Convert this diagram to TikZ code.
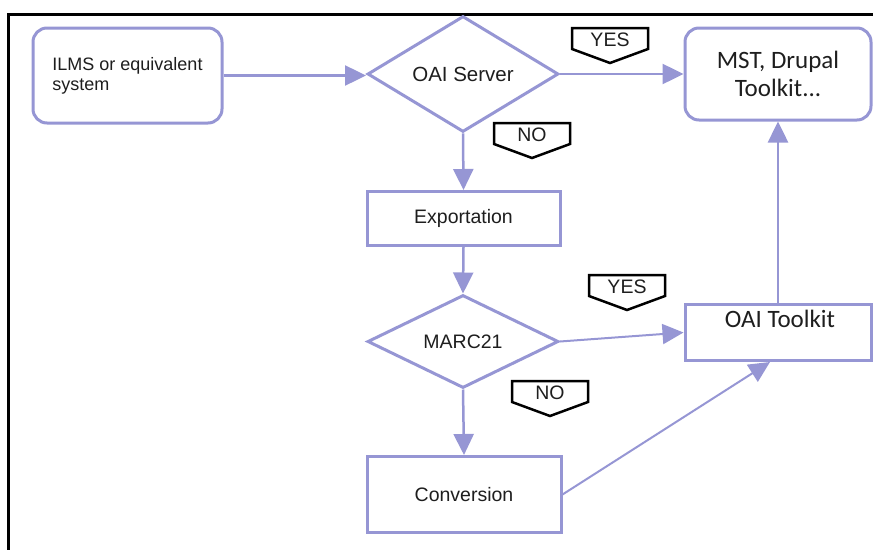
\documentclass[tikz,border=0pt]{standalone}
\usepackage{fontspec}
\setmainfont{Liberation Sans}
\newfontfamily\calfont{Carlito}
\usetikzlibrary{arrows.meta,shapes.geometric}
\definecolor{flowline}{RGB}{150,150,212}
\definecolor{flowtext}{RGB}{30,30,30}
\tikzset{
  flowbox/.style={draw=flowline, line width=3pt, fill=white, inner sep=0pt,
    text=flowtext, font=\fontsize{19.5}{21}\selectfont, align=center},
  roundbox/.style={flowbox, rounded corners=14pt},
  decision/.style={flowbox, diamond},
  conn/.style={draw=flowline, line width=2.5pt,
    -{Triangle[length=21pt,width=20pt]}},
  thinconn/.style={conn, line width=2pt},
  tagshape/.style={draw=black, line width=2.5pt, fill=white, line join=miter},
  tagtext/.style={text=flowtext, inner sep=0pt, font=\fontsize{19.5}{21}\selectfont}
}
% answer tag: a box with a downward point; #1 name, #2 left, #3 top, #4 word
\newcommand\flowtag[4]{%
  \draw[tagshape] (#2,#3) -- ++(76,0) -- ++(0,21) -- ++(-38,14) -- ++(-38,-14) -- cycle;
  \node[tagtext] (#1) at (#2+38,#3+12) {#4};
}
\begin{document}
\begin{tikzpicture}[x=1pt,y=-1pt]
\useasboundingbox (0,0) rectangle (873,549);
% frame
\draw[line width=3pt] (875,14) -- (8,14) -- (8,551);

% boxes and decisions
\node[roundbox, minimum width=189pt, minimum height=95pt,
  font=\fontsize{18}{20}\selectfont, align=left] (ilms) at (127.5,75.5)
  {ILMS or equivalent\\system};
\node[decision, minimum width=191pt, minimum height=113pt,
  font=\fontsize{20.5}{22}\selectfont] (oai) at (463,74) {OAI Server};
\node[roundbox, minimum width=186pt, minimum height=92pt,
  font=\calfont\fontsize{25}{28}\selectfont] (mst) at (778,74) {MST, Drupal\\Toolkit...};
\node[flowbox, minimum width=193pt, minimum height=54pt] (export) at (463.5,218.5) {Exportation};
\node[decision, minimum width=191pt, minimum height=93pt] (marc) at (463,341.5) {MARC21};
\node[flowbox, minimum width=186pt, minimum height=56pt] (toolkit) at (778,332.5) {};
\node[text=flowtext, inner sep=0pt, font=\calfont\fontsize{25}{28}\selectfont]
  (toolkittext) at (780,319) {OAI Toolkit};
\node[flowbox, minimum width=194pt, minimum height=76pt] (conv) at (464,494.5) {Conversion};

% connectors
\draw[conn] (ilms.east) -- (ilms.east -| oai.west);
\draw[conn] (oai.east) -- (oai.east -| mst.west);
\draw[conn] (oai.south) -- (export.north);
\draw[conn] (export.south) -- (marc.north);
\draw[thinconn] (marc.east) -- (toolkit.west);
\draw[conn] (marc.south) -- (conv.north);
\draw[thinconn] (conv.east) -- ([xshift=-8pt]toolkit.south);
\draw[conn] (toolkit.north) -- (mst.south);

% answer tags
\flowtag{yesone}{572}{28}{YES}
\flowtag{noone}{494}{123}{NO}
\flowtag{yestwo}{589}{275}{YES}
\flowtag{notwo}{512}{381}{NO}
\end{tikzpicture}
\end{document}
